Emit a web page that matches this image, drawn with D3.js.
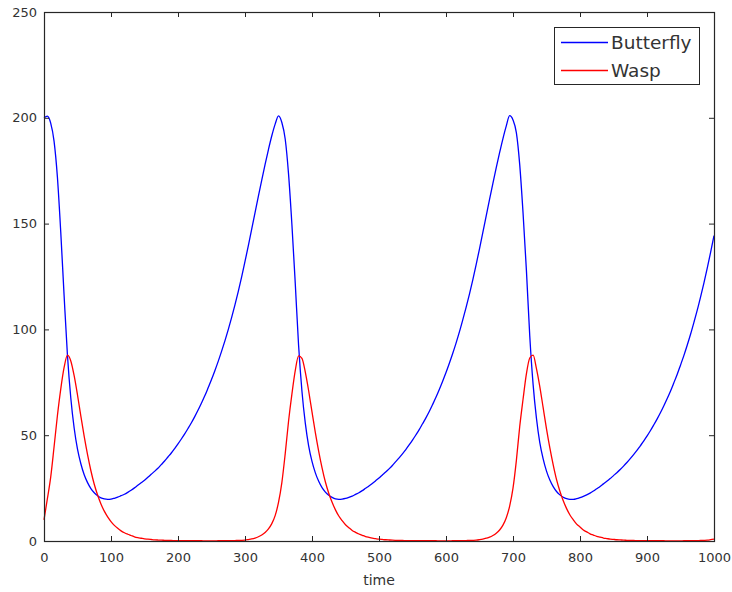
<!DOCTYPE html>
<html lang="en">
<head>
<meta charset="UTF-8">
<script src="https://d3js.org/d3.v7.min.js"></script>
<style>
  body { margin: 0; background: #fff; }
  text { font-family: "DejaVu Sans", sans-serif; fill: #333; }
</style>
<title>Butterfly / Wasp</title>
</head>
<body>
<div class="canvas"></div>
<script>
const time = d3.range(0, 1001, 5)

const butterfly = [
  200, 200.8, 197.5, 189, 172, 146, 116, 87.8, 67.6, 53.4,
  43.4, 36.5, 31.3, 27.6, 24.8, 22.8, 21.4, 20.4, 19.9, 19.7,
  19.8, 20.2, 20.7, 21.4, 22.1, 23.0, 24.0, 25.1, 26.3, 27.5,
  28.7, 30.1, 31.5, 32.9, 34.4, 36.1, 37.8, 39.7, 41.6, 43.7,
  45.9, 48.2, 50.6, 53.2, 55.9, 58.8, 61.9, 65.2, 68.6, 72.4,
  76.3, 80.5, 84.9, 89.6, 94.6, 99.9, 105.6, 111.6, 118.0, 124.8,
  132.1, 139.6, 147.4, 155.2, 163.0, 170.6, 178.0, 185.0, 191.5, 197.0,
  200.9, 197.8, 190, 173.4, 149.6, 121.8, 92.4, 70.8, 55.7, 45,
  37.6, 32.2, 28.2, 25.2, 23.1, 21.6, 20.6, 19.9, 19.7, 19.8,
  20.1, 20.6, 21.2, 22.0, 22.8, 23.8, 24.9, 26.0, 27.2, 28.5,
  29.8, 31.2, 32.6, 34.1, 35.7, 37.5, 39.3, 41.2, 43.2, 45.4,
  47.7, 50.1, 52.6, 55.4, 58.2, 61.2, 64.5, 67.9, 71.6, 75.5,
  79.6, 84.0, 88.6, 93.5, 98.8, 104.5, 110.4, 116.7, 123.4, 130.6,
  138.1, 145.8, 153.6, 161.4, 169.0, 176.4, 183.5, 190.2, 196.2, 201,
  199, 193, 178, 155, 128, 97, 74, 58, 46.5, 38.8,
  33, 28.8, 25.7, 23.4, 21.8, 20.7, 20.0, 19.7, 19.7, 20.0,
  20.5, 21.1, 21.8, 22.6, 23.6, 24.7, 25.8, 27.0, 28.2, 29.5,
  30.9, 32.3, 33.8, 35.4, 37.1, 38.9, 40.8, 42.8, 45.0, 47.2,
  49.6, 52.1, 54.8, 57.6, 60.6, 63.8, 67.2, 70.8, 74.7, 78.7,
  83.1, 87.6, 92.5, 97.7, 103.3, 109.1, 115.4, 122, 129.1, 136.5,
  144.3
]

const wasp = [
  10, 19.9, 30.2, 44.4, 59.2, 71.8, 82, 87.8, 85.1, 78.1,
  69, 59, 49.4, 40.8, 33.2, 26.8, 21.7, 17.5, 14.1, 11.4,
  9.2, 7.4, 6, 4.8, 3.9, 3.2, 2.6, 2.0, 1.6, 1.3,
  1.0, 0.85, 0.7, 0.56, 0.46, 0.38, 0.32, 0.27, 0.23, 0.2,
  0.17, 0.15, 0.14, 0.13, 0.12, 0.12, 0.11, 0.11, 0.1, 0.1,
  0.1, 0.1, 0.11, 0.12, 0.14, 0.16, 0.19, 0.22, 0.27, 0.33,
  0.45, 0.7, 0.98, 1.4, 2.0, 2.8, 4.0, 5.7, 8.2, 12,
  18.2, 27.6, 41.2, 56.6, 69.4, 80.5, 87.5, 86.3, 79.8, 71,
  61, 51.2, 42.4, 34.6, 27.9, 22.6, 18.3, 14.7, 11.8, 9.6,
  7.7, 6.3, 5, 4.1, 3.3, 2.7, 2.1, 1.7, 1.35, 1.1,
  0.87, 0.72, 0.58, 0.48, 0.39, 0.33, 0.28, 0.24, 0.2, 0.18,
  0.16, 0.15, 0.14, 0.13, 0.12, 0.12, 0.11, 0.11, 0.1, 0.1,
  0.1, 0.1, 0.11, 0.13, 0.15, 0.18, 0.21, 0.26, 0.32, 0.4,
  0.62, 0.9, 1.3, 1.8, 2.6, 3.7, 5.2, 7.5, 11, 16.5,
  25, 38, 54, 67, 79, 86.5, 87.8, 81.5, 73, 63,
  53, 44, 36, 29, 23.5, 19, 15.3, 12.3, 10, 8,
  6.6, 5.2, 4.3, 3.4, 2.8, 2.2, 1.8, 1.4, 1.15, 0.9,
  0.75, 0.6, 0.5, 0.4, 0.34, 0.28, 0.24, 0.2, 0.18, 0.15,
  0.14, 0.13, 0.12, 0.12, 0.11, 0.11, 0.1, 0.1, 0.1, 0.1,
  0.1, 0.11, 0.12, 0.14, 0.17, 0.2, 0.25, 0.3, 0.38, 0.6,
  0.85
]

const seriesNames = ['Butterfly', 'Wasp']
const seriesColors = ['#0000ff', '#ff0000']
const xTicks = [0, 100, 200, 300, 400, 500, 600, 700, 800, 900, 1000]
const yTicks = [0, 50, 100, 150, 200, 250]

const areaWidth = 732
const areaHeight = 592
const [ml, mr, mt, mb] = [44, 714, 12, 541]   // plot box edges in px
const axisColor = '#262626'

const svg = d3.select('.canvas')
  .append('svg')
  .attr('width', areaWidth)
  .attr('height', areaHeight)

const x = d3.scaleLinear().domain([0, 1000]).range([ml, mr])
const y = d3.scaleLinear().domain([0, 250]).range([mb, mt])

// lines first, axes drawn on top
const line = d3.line()
  .x(d => x(d[0]))
  .y(d => y(d[1]))
  .curve(d3.curveMonotoneX)

const series = [butterfly, wasp]
series.forEach((vals, i) => {
  svg.append('path')
    .datum(time.map((t, j) => [t, vals[j]]))
    .attr('fill', 'none')
    .attr('stroke', seriesColors[i])
    .attr('stroke-width', 1.3)
    .attr('d', line)
})

function styleAxis(g) {
  g.select('.domain').remove()
  g.selectAll('line').attr('stroke', axisColor)
  g.selectAll('text')
    .style('font-family', '"DejaVu Sans", sans-serif')
    .style('font-size', '13px')
    .attr('fill', '#333')
}

svg.append('g')
  .attr('transform', `translate(0,${mb})`)
  .call(d3.axisBottom(x).tickValues(xTicks).tickSize(-5).tickPadding(12).tickFormat(d3.format('d')))
  .call(styleAxis)

svg.append('g')
  .attr('transform', `translate(0,${mt})`)
  .call(d3.axisTop(x).tickValues(xTicks).tickSize(-5).tickFormat(''))
  .call(styleAxis)

svg.append('g')
  .attr('transform', `translate(${ml},0)`)
  .call(d3.axisLeft(y).tickValues(yTicks).tickSize(-5).tickPadding(7))
  .call(styleAxis)

svg.append('g')
  .attr('transform', `translate(${mr},0)`)
  .call(d3.axisRight(y).tickValues(yTicks).tickSize(-5).tickFormat(''))
  .call(styleAxis)

// box
svg.append('rect')
  .attr('x', ml + 0.5)
  .attr('y', mt + 0.5)
  .attr('width', mr - ml)
  .attr('height', mb - mt)
  .attr('fill', 'none')
  .attr('stroke', axisColor)
  .attr('stroke-width', 1.2)

svg.append('text')
  .attr('x', (ml + mr) / 2)
  .attr('y', 585)
  .attr('text-anchor', 'middle')
  .style('font-size', '14px')
  .text('time')

// legend
const legend = svg.append('g')
legend.append('rect')
  .attr('x', 554.5)
  .attr('y', 27.5)
  .attr('width', 145)
  .attr('height', 57)
  .attr('fill', '#fff')
  .attr('stroke', axisColor)
  .attr('stroke-width', 1)

seriesNames.forEach((name, i) => {
  const ly = 42.5 + i * 28
  legend.append('line')
    .attr('x1', 561).attr('x2', 608)
    .attr('y1', ly).attr('y2', ly)
    .attr('stroke', seriesColors[i])
    .attr('stroke-width', 1.3)
  legend.append('text')
    .attr('x', 611)
    .attr('y', ly)
    .attr('dy', '0.36em')
    .style('font-size', '18.5px')
    .attr('fill', '#222')
    .text(name)
})
</script>
</body>
</html>
